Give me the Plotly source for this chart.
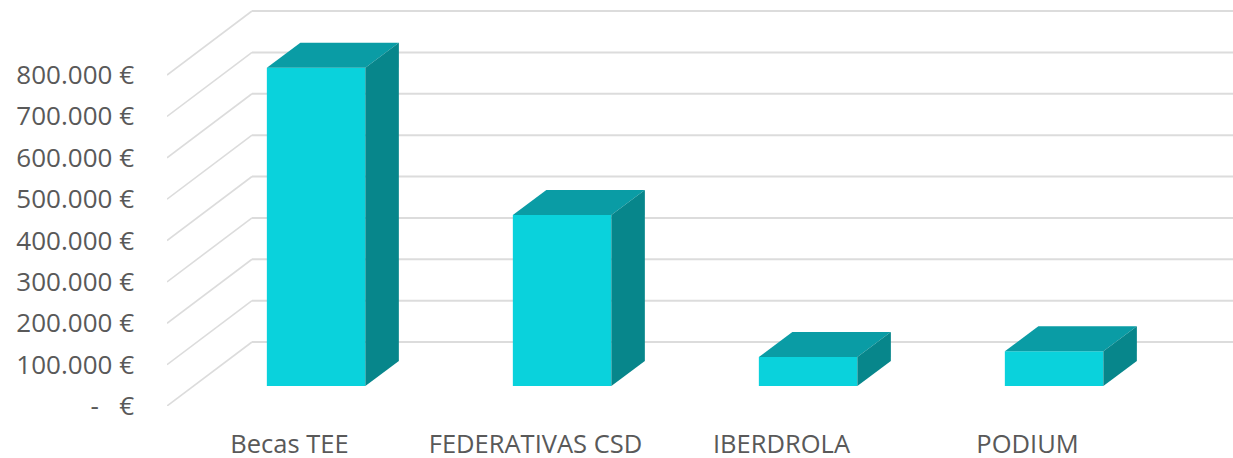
import plotly.graph_objects as go

categories = ["Becas TEE", "FEDERATIVAS CSD", "IBERDROLA", "PODIUM"]
values = [769000, 413000, 70000, 84000]
y_ticks = [0, 100000, 200000, 300000, 400000, 500000, 600000, 700000, 800000]
y_tick_labels = ["-\u00a0\u00a0\u00a0€", "100.000 €", "200.000 €", "300.000 €", "400.000 €",
                 "500.000 €", "600.000 €", "700.000 €", "800.000 €"]

W, H = 1233, 458
LEFT, ZERO_PX = 167, 406
CAT_PX = 246.0
FIRST_CAT_PX = 289.5
PX_PER_UNIT_Y = 41.375 / 100000

FRONT, TOP, SIDE = "#0AD2DC", "#0A9CA5", "#07868B"
GRID, TEXT = "#DCDCDC", "#595959"
FONT = "Open Sans"


def ux(px):
    return px / CAT_PX


def uy(px):
    return px / PX_PER_UNIT_Y


wall_dx, wall_dy = ux(85), uy(64)      # floor depth
floor_dx, floor_dy = ux(26.6), uy(20)  # front of the bars inside the floor
bar_dx, bar_dy = ux(33.5), uy(25)      # depth of each bar
bar_w = ux(98.5)

x_lo = (LEFT - FIRST_CAT_PX) / CAT_PX
x_hi = (W - FIRST_CAT_PX) / CAT_PX

shapes = []
for t in y_ticks:
    shapes.append(dict(type="line", layer="below", xref="x", yref="y",
                       x0=x_lo, y0=t, x1=x_lo + wall_dx, y1=t + wall_dy,
                       line=dict(color=GRID, width=1.6)))
    shapes.append(dict(type="line", layer="below", xref="x", yref="y",
                       x0=x_lo + wall_dx, y0=t + wall_dy, x1=x_hi, y1=t + wall_dy,
                       line=dict(color=GRID, width=2)))

fig = go.Figure()
xs = list(range(len(categories)))
centers = [i + floor_dx for i in xs]

fig.add_trace(go.Bar(x=centers, y=values, base=[floor_dy] * len(values), width=bar_w,
                     marker=dict(color=FRONT, line=dict(width=0)), name="Importe"))

for c, v in zip(centers, values):
    l, r = c - bar_w / 2, c + bar_w / 2
    b, t = floor_dy, floor_dy + v
    fig.add_trace(go.Scatter(x=[l, r, r + bar_dx, l + bar_dx, l],
                             y=[t, t, t + bar_dy, t + bar_dy, t],
                             mode="lines", fill="toself", fillcolor=TOP,
                             line=dict(width=0, color=TOP), hoverinfo="skip"))
    fig.add_trace(go.Scatter(x=[r, r + bar_dx, r + bar_dx, r, r],
                             y=[b, b + bar_dy, t + bar_dy, t, b],
                             mode="lines", fill="toself", fillcolor=SIDE,
                             line=dict(width=0, color=SIDE), hoverinfo="skip"))

fig.update_layout(
    width=W, height=H, showlegend=False,
    margin=dict(l=LEFT, r=0, t=0, b=H - ZERO_PX, pad=0),
    paper_bgcolor="white", plot_bgcolor="white",
    font=dict(family=FONT, size=25, color=TEXT),
    shapes=shapes,
    xaxis=dict(range=[x_lo, x_hi], tickmode="array", tickvals=xs, ticktext=categories,
               automargin=False,
               showgrid=False, zeroline=False, showline=False, ticks="",
               ticklabelstandoff=20, tickfont=dict(family=FONT, size=25.5, color=TEXT)),
    yaxis=dict(range=[0, uy(ZERO_PX)], tickmode="array", tickvals=y_ticks, ticktext=y_tick_labels,
               automargin=False,
               showgrid=False, zeroline=False, showline=False, ticks="",
               ticklabelstandoff=32, tickfont=dict(family=FONT, size=26, color=TEXT)),
)

fig.write_html("out.html", config=dict(displayModeBar=False),
               post_script="document.body.style.margin='0';document.body.style.overflow='hidden';")
